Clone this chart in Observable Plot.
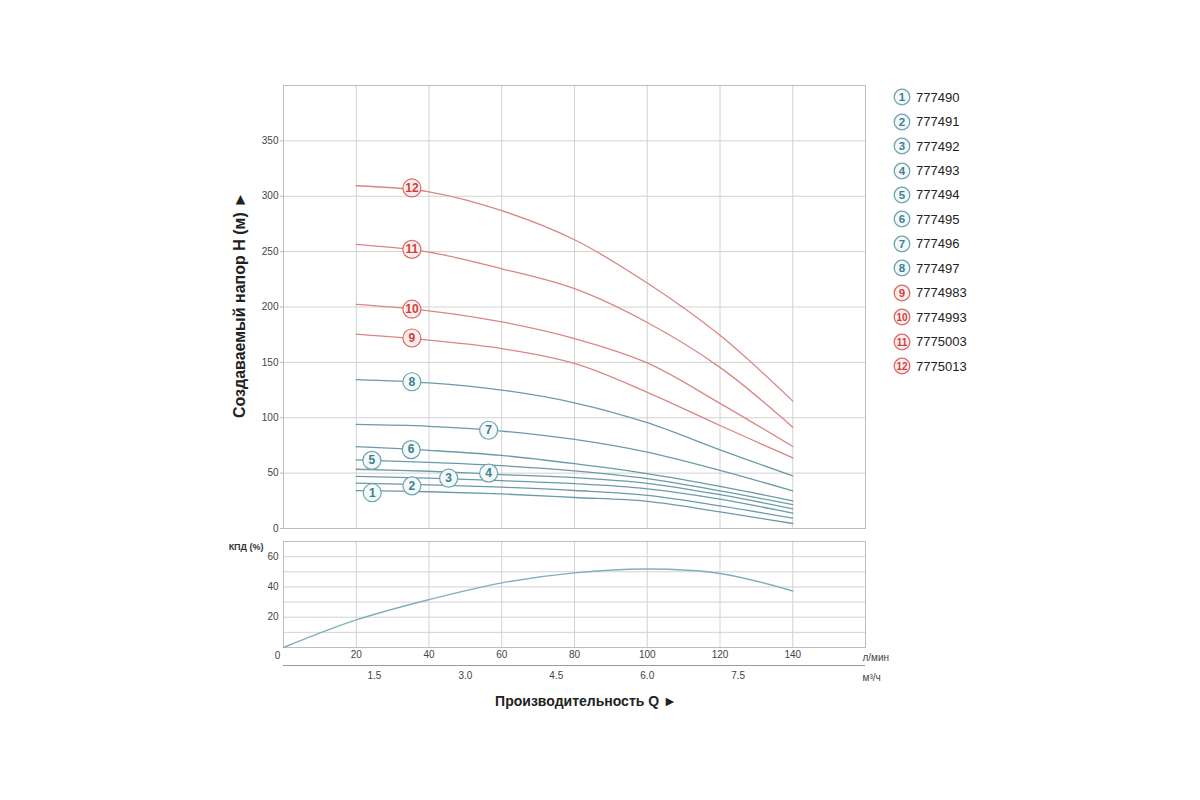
<!DOCTYPE html>
<html>
<head>
<meta charset="utf-8">
<script src="https://cdn.jsdelivr.net/npm/d3@7"></script>
<script src="https://cdn.jsdelivr.net/npm/@observablehq/plot@0.6"></script>
<style>
  html, body { margin: 0; padding: 0; background: #fff; }
  body { width: 1200px; height: 800px; position: relative; overflow: hidden; font-family: "Liberation Sans", Arial, sans-serif; }
  #topChart { position: absolute; left: 0; top: 0; }
  #bottomChart { position: absolute; left: 0; top: 530px; }
  #ytitle { position: absolute; left: 240px; top: 305px; transform: translate(-50%, -50%) rotate(-90deg); white-space: nowrap; font-weight: bold; font-size: 16px; color: #222; }
  #xtitle { position: absolute; left: 586px; top: 701px; transform: translate(-50%, -50%); white-space: nowrap; font-weight: bold; font-size: 14px; color: #222; }
  #legend { position: absolute; left: 893px; top: 85px; }
  .lrow { height: 24.45px; display: flex; align-items: center; }
  .lrow svg { margin-right: 5px; }
  .lrow span { font-size: 13px; color: #222; }
</style>
</head>
<body>
<div id="topChart"></div>
<div id="bottomChart"></div>
<div id="ytitle">Создаваемый напор H (м) ►</div>
<div id="xtitle">Производительность Q ►</div>
<div id="legend"></div>
<script>
// ---------- data ----------
const flowQ = [20, 40, 60, 80, 100, 120, 140]; // л/мин
const head1  = [34.2, 33.2, 31.2, 28.0, 24.5, 15.0, 4.5];
const head2  = [40.9, 39.4, 37.3, 34.3, 30.0, 20.5, 9.3];
const head3  = [47.0, 45.5, 43.2, 40.5, 35.8, 26.5, 13.8];
const head4  = [53.5, 51.7, 48.7, 46.0, 40.8, 30.5, 17.8];
const head5  = [62.0, 59.7, 56.7, 52.0, 45.0, 34.0, 21.5];
const head6  = [74.0, 70.6, 66.0, 58.5, 49.5, 38.0, 25.0];
const head7  = [94.0, 92.3, 88.0, 80.5, 69.0, 52.5, 34.0];
const head8  = [134.5, 131.5, 125.0, 113.5, 95.5, 71.0, 47.5];
const head9  = [175.5, 170.0, 162.5, 149.0, 123.0, 93.0, 63.7];
const head10 = [202.3, 196.5, 186.5, 171.5, 149.5, 113.0, 74.0];
const head11 = [256.5, 249.5, 234.5, 216.5, 186.0, 145.5, 91.5];
const head12 = [309.5, 304.0, 287.0, 260.7, 221.6, 174.4, 115.0];
const heads = [head1, head2, head3, head4, head5, head6, head7, head8, head9, head10, head11, head12];

const models = ["777490", "777491", "777492", "777493", "777494", "777495", "777496", "777497",
                "7774983", "7774993", "7775003", "7775013"];

// curve number badges (where they sit on the curves)
const badgeQ = [24.4, 35.3, 45.4, 56.4, 24.3, 35.1, 56.4, 35.3, 35.3, 35.3, 35.3, 35.3];
const badgeH = [32.3, 38.5, 45.4, 50.0, 61.5, 71.2, 88.7, 132.5, 172.0, 198.0, 252.0, 307.5];

// efficiency (КПД)
const effQ   = [0, 20, 40, 60, 80, 100, 120, 140];
const effVal = [0, 18.2, 31.6, 42.7, 49.3, 51.8, 48.9, 37.3];

// ticks
const headTicks = [0, 50, 100, 150, 200, 250, 300, 350];
const flowTicks = [20, 40, 60, 80, 100, 120, 140];
const kpdTicks  = [20, 40, 60];
const kpdGrid   = [10, 20, 30, 40, 50, 60];
const m3Ticks   = ["1.5", "3.0", "4.5", "6.0", "7.5"]; // м³/ч
const m3Pos     = m3Ticks.map(v => +v * 1000 / 60);   // same flow in л/мин

// ---------- styles ----------
const TEAL = "#6a9ba8", TEAL_DARK = "#3f7f8f", TEAL_RING = "#6fa3b1", TEAL_FILL = "#f3f8f9";
const RED = "#dc8585", RED_DARK = "#cf3f3a", RED_RING = "#d96a66", RED_FILL = "#fdeeee";
const GRID = "#d2d2d2", FRAME = "#bdbdbd", TXT = "#444";
const tickFont = "'Liberation Sans Narrow', 'Arial Narrow', 'Liberation Sans', Arial, sans-serif";
const isRed = s => s > 8;

const rows = [];
heads.forEach((arr, i) => arr.forEach((h, j) => rows.push({s: i + 1, q: flowQ[j], h})));
const badges = badgeQ.map((q, i) => ({s: i + 1, q, h: badgeH[i]}));

// ---------- top chart: head ----------
const topPlot = Plot.plot({
  width: 1200, height: 540,
  marginLeft: 283, marginRight: 335, marginTop: 85, marginBottom: 12,
  style: {background: "transparent", fontFamily: tickFont, fontSize: "10px", overflow: "visible"},
  x: {domain: [0, 160], axis: null},
  y: {domain: [0, 400], axis: null},
  color: {type: "identity"},
  marks: [
    Plot.gridY(headTicks.slice(1), {stroke: GRID, strokeOpacity: 1}),
    Plot.gridX(flowTicks, {stroke: GRID, strokeOpacity: 1}),
    Plot.frame({stroke: FRAME}),
    Plot.axisY(headTicks, {tickSize: 3, tickPadding: 2, stroke: FRAME, fill: TXT, label: null}),
    Plot.line(rows, {x: "q", y: "h", z: "s", stroke: d => isRed(d.s) ? RED : TEAL, strokeWidth: 1.3, curve: "catmull-rom"}),
    Plot.dot(badges, {x: "q", y: "h", r: 9, fill: d => isRed(d.s) ? RED_FILL : TEAL_FILL,
      stroke: d => isRed(d.s) ? RED_RING : TEAL_RING, strokeWidth: 1.2}),
    Plot.text(badges, {x: "q", y: "h", text: d => String(d.s), fill: d => isRed(d.s) ? RED_DARK : TEAL_DARK,
      fontWeight: "bold", fontSize: 12, fontFamily: "'Liberation Sans', Arial, sans-serif"})
  ]
});
document.getElementById("topChart").append(topPlot);

// ---------- bottom chart: efficiency ----------
const effRows = effQ.map((q, i) => ({q, v: effVal[i]}));
const bottomPlot = Plot.plot({
  width: 1200, height: 160,
  marginLeft: 283, marginRight: 335, marginTop: 11, marginBottom: 43,
  style: {background: "transparent", fontFamily: tickFont, fontSize: "10px", overflow: "visible"},
  x: {domain: [0, 160], axis: null},
  y: {domain: [0, 70], axis: null},
  marks: [
    Plot.gridY(kpdGrid, {stroke: GRID, strokeOpacity: 1}),
    Plot.gridX(flowTicks, {stroke: GRID, strokeOpacity: 1}),
    Plot.frame({stroke: FRAME}),
    Plot.axisY(kpdTicks, {tickSize: 0, tickPadding: 5, fill: TXT, label: null}),
    Plot.axisX(flowTicks, {tickSize: 0, tickPadding: 3, fill: TXT, label: null}),
    Plot.ruleY([0], {dy: 18, stroke: "#9a9a9a"}),
    Plot.axisX(m3Pos, {tickSize: 0, tickPadding: 3, dy: 21, fill: TXT, label: null,
      tickFormat: d => m3Ticks[m3Pos.indexOf(d)]}),
    Plot.text(["0"], {x: 0, y: 0, dx: -6, dy: 8, fill: TXT}),
    Plot.text(["л/мин"], {x: 160, y: 0, dx: -3, dy: 10, textAnchor: "start", fill: TXT}),
    Plot.text(["м³/ч"], {x: 160, y: 0, dx: -3, dy: 30, textAnchor: "start", fill: TXT}),
    Plot.text(["КПД (%)"], {x: 0, y: 70, dx: -20, dy: 6, textAnchor: "end", fill: "#333", fontWeight: "bold", fontSize: 9}),
    Plot.line(effRows, {x: "q", y: "v", stroke: "#7fb0bd", strokeWidth: 1.4, curve: "catmull-rom"})
  ]
});
document.getElementById("bottomChart").append(bottomPlot);

// ---------- legend ----------
const legend = document.getElementById("legend");
models.forEach((m, i) => {
  const s = i + 1;
  const red = isRed(s);
  const row = document.createElement("div");
  row.className = "lrow";
  row.innerHTML =
    `<svg width="18" height="18" viewBox="0 0 18 18">
       <circle cx="9" cy="9" r="7.8" fill="${red ? RED_FILL : TEAL_FILL}" stroke="${red ? RED_RING : TEAL_RING}" stroke-width="1.3"/>
       <text x="9" y="9" dy="0.36em" text-anchor="middle" font-size="${s > 9 ? 10 : 11.5}" font-weight="bold"
         font-family="'Liberation Sans', Arial, sans-serif" fill="${red ? RED_DARK : TEAL_DARK}">${s}</text>
     </svg><span>${m}</span>`;
  legend.append(row);
});
</script>
</body>
</html>
